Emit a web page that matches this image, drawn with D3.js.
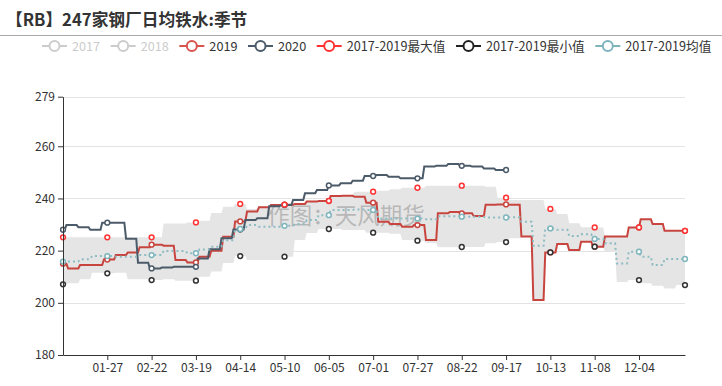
<!DOCTYPE html>
<html><head><meta charset="utf-8">
<script src="https://cdn.jsdelivr.net/npm/d3@7"></script>
<style>
html,body{margin:0;padding:0;background:#fff;}
svg{display:block;font-family:"Noto Sans CJK SC","Microsoft YaHei",sans-serif;}
</style></head><body>
<svg id="c" width="722" height="386"></svg>
<script>
// ---------- data ----------
const titleText = "【RB】247家钢厂日均铁水:季节";
const watermarkText = "作图：天风期货";
const categories = d3.timeDay.range(new Date(2020,0,1), new Date(2021,0,1)).map(d3.timeFormat("%m-%d"));
const tickIndex = d3.range(26, 340, 26);
const yTicks = [180, 200, 220, 240, 260, 279];

const legendNames  = ["2017", "2018", "2019", "2020", "2017-2019最大值", "2017-2019最小值", "2017-2019均值"];
const legendColors = ["#cccccc", "#cccccc", "#d9534f", "#4c5b6a", "#ff3333", "#222222", "#7eb5bd"];
const legendActive = [false, false, true, true, true, true, true];

// weekly readings (value held until next week)
const start2019 = 215.0, offset2019 = 3, last2019 = 365;
const weekly2019 = [213.2,214.5,214.5,216.6,218.3,219.3,221.3,222.3,221.9,216.4,
  215.5,217.7,220,225.3,231.2,235,236.6,237.5,237.6,237.9,
  238.8,239,240.9,241,240.7,238.4,231.1,230.2,229.2,229.8,
  224.1,234.3,234.8,234.3,233.3,237.6,237.7,237.6,225.4,201.1,
  219.3,222.5,220.2,223.4,221.5,225.4,225.4,228.9,232,230.2,
  227.6,227.6];

const start2020 = 228.0, offset2020 = 2, last2020 = 260;
const weekly2020 = [229.8,229,228,230.7,230.7,224.6,215.4,213.2,213.5,213.8,
  213.8,217,220.5,224.7,228.1,231.7,232.4,237,237.5,239.4,
  242,243.2,245,245.8,246.8,248.6,249,248.3,247.7,247.7,
  252.2,252.5,253.2,252.5,252.2,251.5,250.9];

const startMax = 225.1, startMin = 207.1, startMean = 215.8, offsetBand = 3, lastBand = 365;
const weeklyMax = [225.1,225.1,225.1,225.1,225.1,225.1,225.1,225.1,230.4,230.4,
  230.8,231.5,234.4,236.8,237.9,236,237,237.8,237.6,238.2,
  238.8,239.1,240.9,241.3,242.6,242.6,243,243.5,244.1,244.1,
  244.9,244.9,244.9,244.9,244.9,244.5,240.3,239.4,239.4,239.4,
  236,234,230.5,229,228.9,225.4,225.4,228.9,232,230.2,
  227.6,227.6];
const weeklyMin = [207.5,209,211.5,211.3,211.5,209,209,208.7,209,208.5,
  208.5,210,212,215.3,217.9,216.4,216.4,216.4,217.7,224.1,
  226.8,228.3,228.3,227.9,227.9,226.9,226.9,226.5,224.1,223.8,
  222.9,221.3,221.3,221.4,221.4,222.8,223.3,224.7,225.4,201.1,
  219.3,222.5,220.2,223.4,221.5,219.6,208,208.7,207.5,206.5,
  205.5,206.8];
const weeklyMean = [215.8,216.7,217.9,217.9,217.7,217.7,218.3,218.3,219.9,219.9,
  219,220.4,221.5,224,228.3,229.8,229.2,229.2,229.5,230.2,
  231.7,233.6,235.6,235.6,235.8,235.6,232.3,232.3,232.3,232.3,
  232,233.2,233.2,233,233,232.7,232.7,232.8,231.1,221.9,
  228.5,228,225.6,226.3,224.5,222.8,215.1,219.6,217.7,214.5,
  216.8,216.8];

// hold each weekly reading across its days
function expand(start, weekly, offset, lastDay) {
  return d3.range(0, lastDay + 1).map(i => i < offset ? start :
    weekly[Math.min(weekly.length - 1, Math.floor((i - offset) / 7))]);
}
const d2019 = expand(start2019, weekly2019, offset2019, last2019);
const d2020 = expand(start2020, weekly2020, offset2020, last2020);
const dMax  = expand(startMax, weeklyMax, offsetBand, lastBand);
const dMin  = expand(startMin, weeklyMin, offsetBand, lastBand);
const dMean = expand(startMean, weeklyMean, offsetBand, lastBand);

// ---------- drawing ----------
const svg = d3.select("#c");
const x = d3.scaleLinear().domain([0, categories.length - 1]).range([63, 685]);
const y = d3.scaleLinear().domain([180, 279]).range([355, 96.7]);

svg.append("text").attr("x", 6).attr("y", 26)
  .attr("font-size", 16.7).attr("font-weight", "bold").attr("fill", "#333").text(titleText);
svg.append("line").attr("x1", 0).attr("x2", 722).attr("y1", 35.5).attr("y2", 35.5)
  .attr("stroke", "#aaa").attr("stroke-width", 1);

// legend
let lx = 42;
const ly = 46;
legendNames.forEach((n, i) => {
  const g = svg.append("g");
  const c = legendColors[i];
  g.append("line").attr("x1", lx).attr("x2", lx + 25).attr("y1", ly).attr("y2", ly)
    .attr("stroke", c).attr("stroke-width", 2);
  g.append("circle").attr("cx", lx + 12.5).attr("cy", ly).attr("r", 5)
    .attr("fill", "#fff").attr("stroke", c).attr("stroke-width", 2);
  const t = g.append("text").attr("x", lx + 30).attr("y", ly + 4.5).attr("font-size", 12.7)
    .attr("fill", legendActive[i] ? "#333" : "#ccc").text(n);
  lx += 30 + t.node().getComputedTextLength() + 10.5;
});

// grid
svg.append("g").selectAll("line").data(yTicks.filter(v => v !== 180)).join("line")
  .attr("x1", 63).attr("x2", 685).attr("y1", d => Math.round(y(d)) + 0.5).attr("y2", d => Math.round(y(d)) + 0.5)
  .attr("stroke", "#e3e3e3");

// band
const idx = d3.range(0, categories.length);
svg.append("path").datum(idx)
  .attr("d", d3.area().x(i => x(i)).y0(i => y(dMin[i])).y1(i => y(dMax[i])))
  .attr("fill", "#e5e5e5");

// watermark
svg.append("text").attr("x", 346).attr("y", 224).attr("text-anchor", "middle")
  .attr("font-size", 22.5).attr("fill", "#999").attr("fill-opacity", 0.6).text(watermarkText);

const line = d3.line().x((d, i) => x(i)).y(d => y(d));
svg.append("path").datum(d2019).attr("d", line).attr("fill", "none")
  .attr("stroke", "#c8453f").attr("stroke-width", 2);
svg.append("path").datum(d2020).attr("d", line).attr("fill", "none")
  .attr("stroke", "#4c5b6a").attr("stroke-width", 2);
svg.append("path").datum(dMean).attr("d", line).attr("fill", "none")
  .attr("stroke", "#8dbcc3").attr("stroke-width", 2).attr("stroke-dasharray", "2,3");

// symbols
const symIdx = [0, ...tickIndex, categories.length - 1];
function symbols(data, color) {
  svg.append("g").selectAll("circle").data(symIdx.filter(i => i < data.length)).join("circle")
    .attr("cx", i => x(i)).attr("cy", i => y(data[i])).attr("r", 2.4)
    .attr("fill", "#fff").attr("stroke", color).attr("stroke-width", 1.5);
}
symbols(d2019, "#c8453f");
symbols(d2020, "#4c5b6a");
symbols(dMax, "#ff3333");
symbols(dMin, "#333");
symbols(dMean, "#7eb5bd");

// axes
const yAxis = svg.append("g").attr("transform", "translate(63,0)")
  .call(d3.axisLeft(y).tickValues(yTicks).tickSize(5).tickSizeOuter(0).tickFormat(d3.format("d")));
const xAxis = svg.append("g").attr("transform", "translate(0,355)")
  .call(d3.axisBottom(x).tickValues(tickIndex).tickSize(5).tickSizeOuter(0).tickFormat(i => categories[i]));
[yAxis, xAxis].forEach(a => {
  a.select(".domain").attr("stroke", "#333");
  a.selectAll(".tick line").attr("stroke", "#333");
  a.selectAll("text").attr("font-size", 12).attr("fill", "#333")
    .attr("font-family", '"Noto Sans CJK SC","Microsoft YaHei",sans-serif');
});
</script>
</body></html>
